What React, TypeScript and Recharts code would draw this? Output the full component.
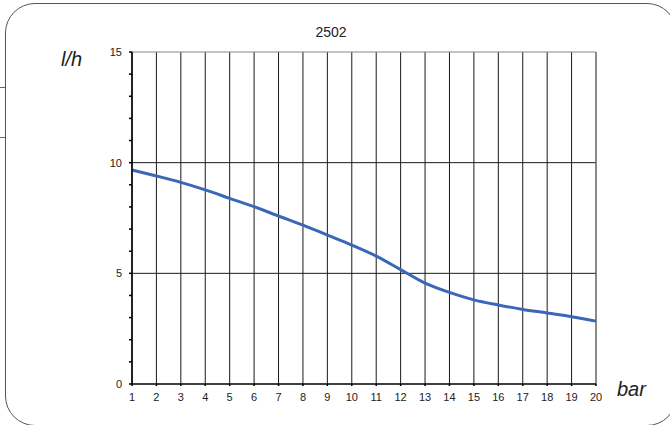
import React from "react";
import { LineChart, Line, XAxis, YAxis, CartesianGrid, ReferenceLine } from "recharts";

const pressures = [1, 2, 3, 4, 5, 6, 7, 8, 9, 10, 11, 12, 13, 14, 15, 16, 17, 18, 19, 20];
const flow = [9.67, 9.4, 9.11, 8.77, 8.39, 8.01, 7.59, 7.18, 6.73, 6.28, 5.78, 5.17, 4.56, 4.14, 3.8, 3.57, 3.37, 3.21, 3.04, 2.84];
const yTicks = [0, 1, 2, 3, 4, 5, 6, 7, 8, 9, 10, 11, 12, 13, 14, 15];
const yMajor = [0, 5, 10, 15];
const gridRows = [5, 10, 15];
const title = "2502";
const yUnit = "l/h";
const xUnit = "bar";

const data = pressures.map((p, i) => ({ p, q: flow[i] }));
const FONT = "'Liberation Sans', Arial, sans-serif";

export default function App() {
  return (
    <div style={{ position: "absolute", left: 0, top: 0, width: 670, height: 425, overflow: "hidden", background: "#fff", fontFamily: FONT }}>
      <div style={{ position: "absolute", left: 5, top: 3, width: 672, height: 423, border: "1.3px solid #555", borderRadius: 30, boxSizing: "border-box" }} />
      <div style={{ position: "absolute", left: 0, top: 87, width: 5, height: 1, background: "#666" }} />
      <div style={{ position: "absolute", left: 0, top: 137, width: 5, height: 1, background: "#666" }} />
      <div style={{ position: "absolute", left: 0, top: 0 }}>
        <LineChart width={670} height={425} data={data} margin={{ top: 52, right: 74, bottom: 11, left: 72 }}>
          <CartesianGrid horizontal={false} vertical={true} stroke="#1a1a1a" strokeWidth={1} />
          {gridRows.map((v) => (
            <ReferenceLine key={v} y={v} stroke={v === 15 ? "#888" : "#1a1a1a"} strokeWidth={1} />
          ))}
          <ReferenceLine x={20} stroke="#888" strokeWidth={1} />
          <XAxis
            dataKey="p"
            type="number"
            domain={[1, 20]}
            ticks={pressures}
            interval={0}
            height={30}
            tickSize={2}
            tickMargin={7}
            stroke="#000"
            strokeWidth={1.5}
            tick={{ fill: "#222", fontSize: 11, fontFamily: FONT }}
          />
          <YAxis
            type="number"
            domain={[0, 15]}
            ticks={yTicks}
            interval={0}
            width={60}
            tickSize={3}
            tickMargin={7}
            stroke="#000"
            strokeWidth={1.5}
            tickFormatter={(v: number) => (yMajor.includes(v) ? String(v) : "")}
            tick={{ fill: "#222", fontSize: 11, fontFamily: FONT }}
          />
          <Line
            type="monotone"
            dataKey="q"
            stroke="#3a67b8"
            strokeWidth={3}
            dot={false}
            isAnimationActive={false}
          />
        </LineChart>
      </div>
      <div style={{ position: "absolute", left: 271, width: 120, top: 24, textAlign: "center", fontSize: 14, color: "#222" }}>{title}</div>
      <div style={{ position: "absolute", left: 61, top: 48, fontSize: 20, fontStyle: "italic", color: "#222" }}>{yUnit}</div>
      <div style={{ position: "absolute", left: 617, top: 378, fontSize: 20, fontStyle: "italic", color: "#222" }}>{xUnit}</div>
    </div>
  );
}
